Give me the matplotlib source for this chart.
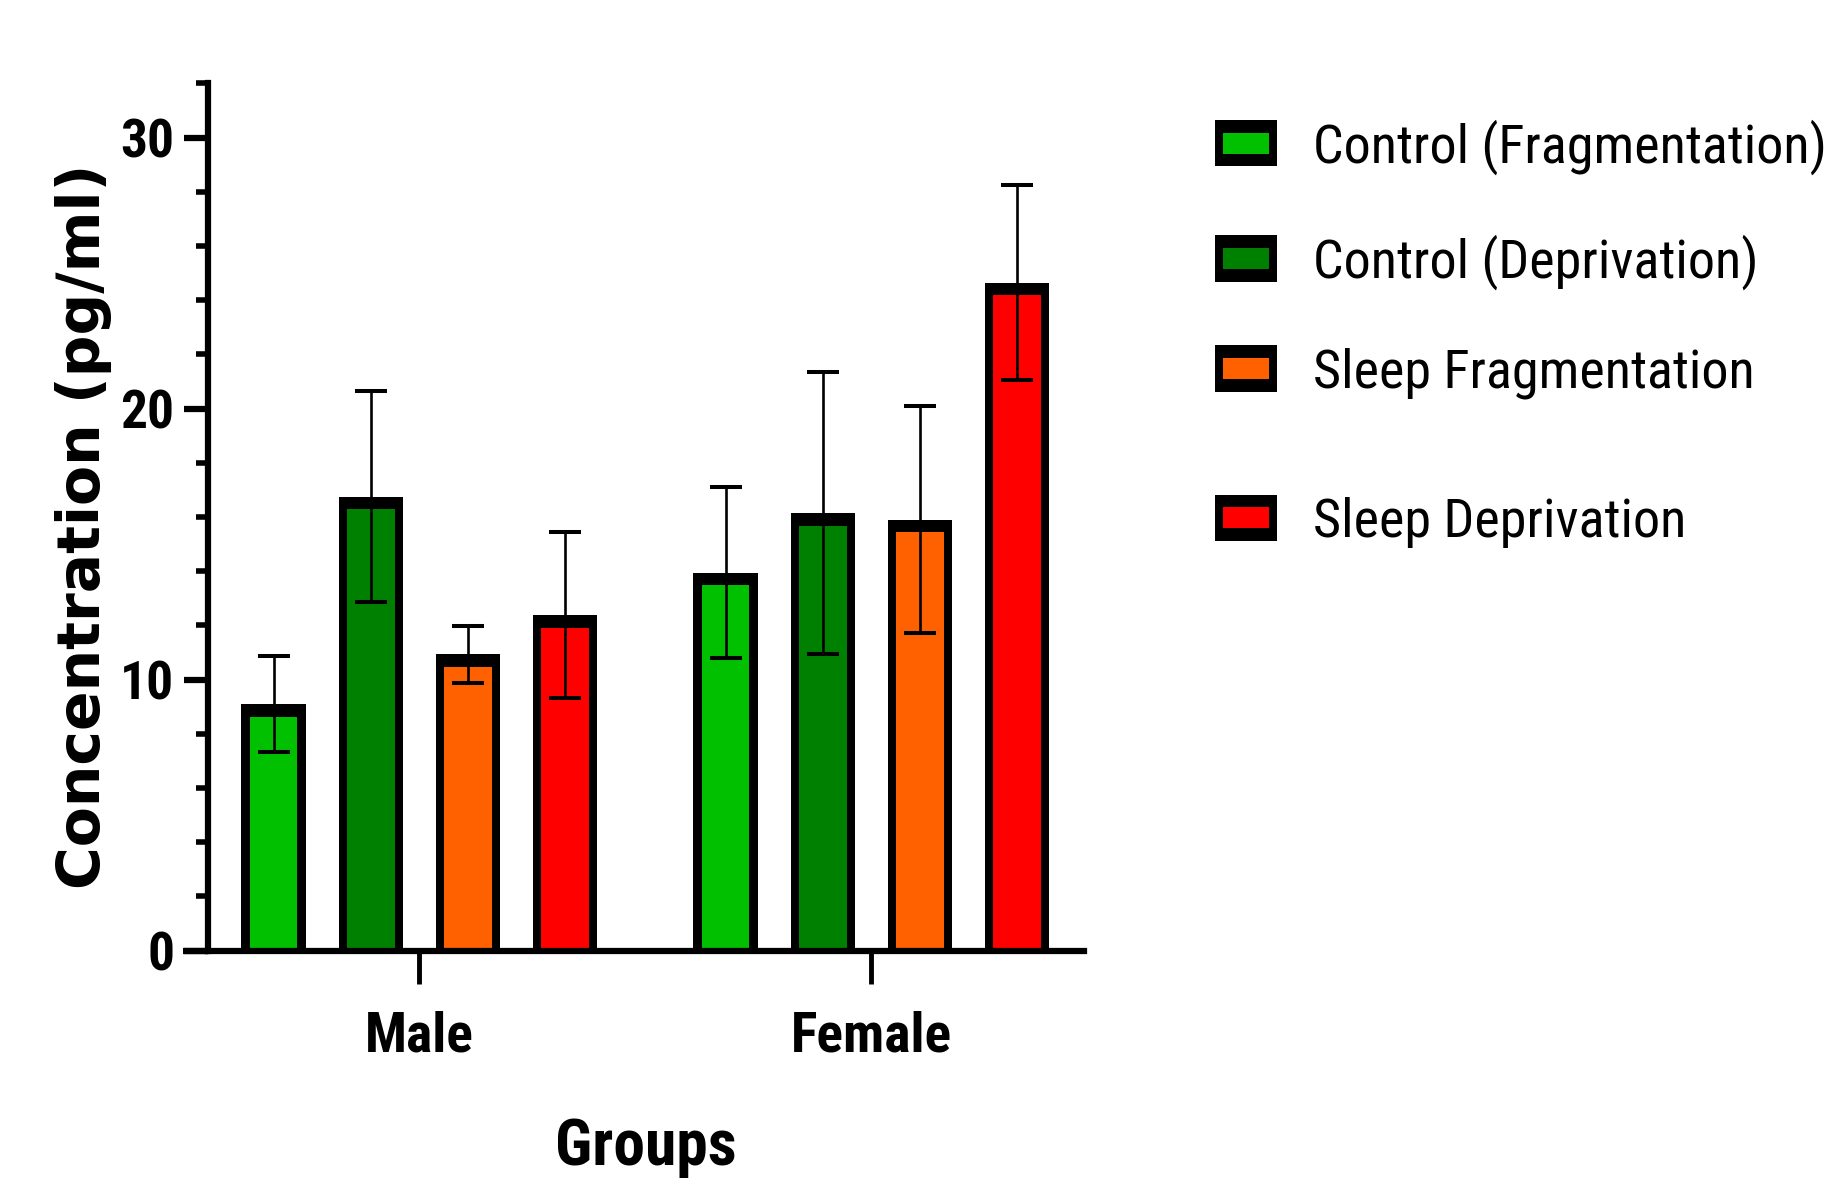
import matplotlib
matplotlib.use("Agg")
import matplotlib.pyplot as plt
from matplotlib import font_manager
from matplotlib.patches import Rectangle
from matplotlib.ticker import MultipleLocator
import numpy as np

# ---- data -------------------------------------------------------------
groups = ["Male", "Female"]
series = ["Control (Fragmentation)", "Control (Deprivation)",
          "Sleep Fragmentation", "Sleep Deprivation"]
ctrl_frag = [9.1, 13.95]
ctrl_frag_err = [1.76, 3.17]
ctrl_depr = [16.75, 16.15]
ctrl_depr_err = [3.9, 5.2]
sleep_frag = [10.93, 15.9]
sleep_frag_err = [1.06, 4.18]
sleep_depr = [12.38, 24.65]
sleep_depr_err = [3.05, 3.6]
y_ticks = [0, 10, 20, 30]

means = [ctrl_frag, ctrl_depr, sleep_frag, sleep_depr]
errs = [ctrl_frag_err, ctrl_depr_err, sleep_frag_err, sleep_depr_err]
colors = ["#00C000", "#008000", "#FF6000", "#FF0000"]

# ---- fonts ------------------------------------------------------------
installed = {f.name for f in font_manager.fontManager.ttflist}


def first_installed(cands):
    for c in cands:
        if c in installed:
            return c
    return "DejaVu Sans"


NARROW = first_installed(["Roboto Condensed", "Liberation Sans Narrow",
                          "Arial Narrow", "Liberation Sans"])
WIDE = first_installed(["DejaVu Sans", "Liberation Sans"])

# ---- layout -----------------------------------------------------------
W, H = 1847, 1185
fig = plt.figure(figsize=(W / 100, H / 100), dpi=100)
renderer = fig.canvas.get_renderer()


def measure(s, family, weight, size, rotation=0):
    t = fig.text(0, 0, s, fontfamily=family, fontweight=weight,
                 fontsize=size, rotation=rotation)
    bb = t.get_window_extent(renderer)
    t.remove()
    return bb.width, bb.height


def fitted_size(s, family, weight, target_len, target_cap, limit=False,
                len_weight=0.5):
    """Font size balancing the target text length and cap height."""
    ref = 100.0
    w, _ = measure(s, family, weight, ref)
    size_len = ref * target_len / w
    size_cap = target_cap / 0.716 * 72 / 100
    if limit:
        return min(size_len, size_cap)
    return float(size_len ** len_weight * size_cap ** (1 - len_weight))


ytick_size = fitted_size("30", NARROW, "bold", 44, 47)
xtick_size = fitted_size("Male", NARROW, "bold", 94, 46)
xlabel_size = fitted_size("Groups", NARROW, "bold", 165, 50)
legend_size = fitted_size(series[0], NARROW, "normal", 514, 50, limit=True)
ylabel_size = fitted_size("Concentration (pg/ml)", WIDE, "bold", 743, 39,
                          len_weight=0.75)

ax = fig.add_axes([208 / W, (H - 950.6) / H, 875.8 / W, 867.2 / H])

group_pos = np.array([0.0, 4.65])
offsets = np.array([-1.5, -0.5, 0.5, 1.5])
outer_w = 0.662
inner_w = 0.49
top_band = 0.47  # thick top edge of each bar, in data units

for k in range(4):
    x = group_pos + offsets[k]
    vals = np.array(means[k])
    # black outline body
    ax.bar(x, vals, width=outer_w, color="black", linewidth=0, zorder=1)
    # coloured fill inside the outline
    ax.bar(x, vals - top_band, width=inner_w, color=colors[k],
           linewidth=0, zorder=1.2)
    ax.errorbar(x, vals, yerr=errs[k], fmt="none", ecolor="black",
                elinewidth=1.9, capsize=11.5, capthick=2.9, zorder=3)

ax.set_xlim(-2.175, 6.835)
ax.set_ylim(0, 32)

for s in ("top", "right"):
    ax.spines[s].set_visible(False)
for s in ("left", "bottom"):
    ax.spines[s].set_linewidth(4.5)
    ax.spines[s].set_zorder(4)
ax.spines["left"].set_capstyle("projecting")

# x-axis line continues under the y tick marks
ax.plot([-0.0285, 0], [0, 0], transform=ax.get_yaxis_transform(),
        color="black", linewidth=4.5, clip_on=False, zorder=4,
        solid_capstyle="butt")

ax.set_yticks(y_ticks)
ax.yaxis.set_minor_locator(MultipleLocator(2))
ax.tick_params(axis="y", which="major", length=17.3, width=4.5, pad=7,
               direction="out")
ax.tick_params(axis="y", which="minor", length=8.6, width=4.0,
               direction="out")
ax.set_xticks(group_pos)
ax.set_xticklabels(groups)
ax.tick_params(axis="x", which="major", length=23.8, width=3.5, pad=19,
               direction="out")

for lab in ax.get_yticklabels():
    lab.set_fontfamily(NARROW)
    lab.set_fontweight("bold")
    lab.set_fontsize(ytick_size)
for lab in ax.get_xticklabels():
    lab.set_fontfamily(NARROW)
    lab.set_fontweight("bold")
    lab.set_fontsize(xtick_size)

ax.set_xlabel("Groups", fontfamily=NARROW, fontweight="bold",
              fontsize=xlabel_size)
ax.xaxis.label.set_va("baseline")
ax.xaxis.set_label_coords(0.5, -0.247)

ax.set_ylabel("Concentration (pg/ml)", fontfamily=WIDE, fontweight="bold",
              fontsize=ylabel_size)
ax.yaxis.label.set_va("center")
ax.yaxis.label.set_ha("center")
ax.yaxis.set_label_coords(-0.1416, 0.4896)

# ---- legend -----------------------------------------------------------
row_centers = [143, 258.5, 368.5, 517.5]
cap_px = 0.716 * legend_size * 100 / 72


def fx(px):
    return px / W


def fy(py):
    return (H - py) / H


for label, color, yc in zip(series, colors, row_centers):
    fig.add_artist(Rectangle((fx(1215), fy(yc + 23)), fx(1277) - fx(1215),
                             46 / H, transform=fig.transFigure,
                             facecolor="black", edgecolor="none"))
    fig.add_artist(Rectangle((fx(1223.3), fy(yc + 10.5)),
                             fx(1268.7) - fx(1223.3), 21 / H,
                             transform=fig.transFigure,
                             facecolor=color, edgecolor="none"))
    fig.text(fx(1313), fy(yc + cap_px / 2), label, fontfamily=NARROW,
             fontsize=legend_size, ha="left", va="baseline")

fig.savefig("out.png", dpi=100, facecolor="white")
